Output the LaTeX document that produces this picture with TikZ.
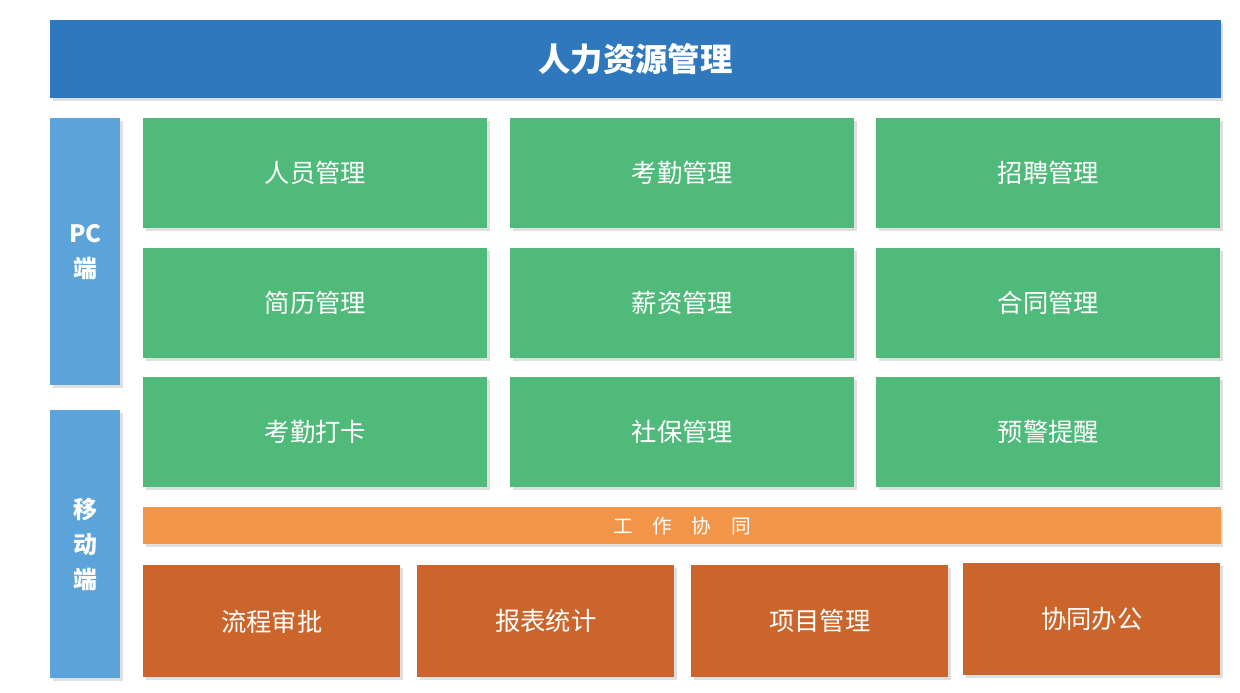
\documentclass[tikz,border=0pt]{standalone}
\usepackage{fontspec}
\setmainfont{Noto Sans CJK SC}
\usetikzlibrary{shadows}
\definecolor{titleblue}{HTML}{2F78BE}
\definecolor{sideblue}{HTML}{5BA3D9}
\definecolor{modgreen}{HTML}{4FBA7A}
\definecolor{barorange}{HTML}{F39549}
\definecolor{appbrown}{HTML}{CC652B}

\begin{document}
\begin{tikzpicture}[x=0.025cm,y=-0.025cm]
    \tikzstyle{box}=[anchor=north west,inner sep=0pt,text=white,drop shadow={shadow xshift=2pt,shadow yshift=-2pt,opacity=0.25}]
    \tikzstyle{title box}=[box,fill=titleblue,minimum width=29.25cm,minimum height=1.95cm,font=\fontsize{23}{26}\selectfont\bfseries]
    \tikzstyle{side box}=[box,fill=sideblue,minimum width=1.75cm,align=center,font=\fontsize{17}{25}\selectfont\bfseries]
    \tikzstyle{module}=[box,fill=modgreen,minimum width=8.6cm,minimum height=2.75cm,font=\fontsize{18}{20}\selectfont]
    \tikzstyle{bar}=[box,fill=barorange,minimum width=26.925cm,minimum height=0.925cm,font=\fontsize{14}{16}\selectfont]
    \tikzstyle{app}=[box,fill=appbrown,minimum width=6.425cm,minimum height=2.8cm,font=\fontsize{18}{20}\selectfont]

    \useasboundingbox (0,0) rectangle (1240,692);

    % Top title
    \node[title box] (T) at (50,20) {人力资源管理};

    % Side labels
    \node[side box,minimum height=6.675cm] (PC) at (50,118) {PC\\端};
    \node[side box,minimum height=6.7cm] (M) at (50,410) {移\\动\\端};

    % Module grid
    \foreach \name / \x / \y / \txt in {1/143/118/人员管理, 2/510/118/考勤管理, 3/876/118/招聘管理,
        4/143/248/简历管理, 5/510/248/薪资管理, 6/876/248/合同管理,
        7/143/377/考勤打卡, 8/510/377/社保管理, 9/876/377/预警提醒}
        \node[module] (G-\name) at (\x,\y) {\txt};

    % Collaboration bar
    \node[bar] (W) at (143,507) {工\quad 作\quad 协\quad 同};

    % Applications
    \foreach \name / \x / \y / \txt in {1/143/565/流程审批, 2/417/565/报表统计, 3/691/565/项目管理, 4/963/563/协同办公}
        \node[app] (A-\name) at (\x,\y) {\txt};
\end{tikzpicture}
\end{document}
